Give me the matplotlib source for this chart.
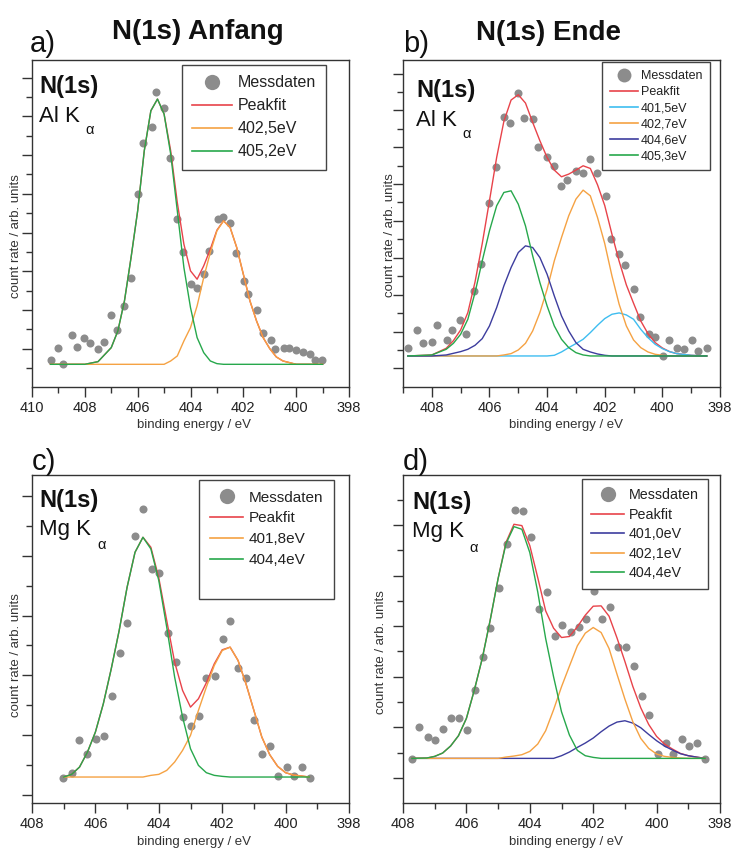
import matplotlib
matplotlib.use('Agg')
import matplotlib.pyplot as plt
from matplotlib.lines import Line2D

plt.rcParams['font.family'] = ['Liberation Sans', 'DejaVu Sans']

# ---------------- data ----------------
# Panel a: N(1s) Anfang, Al K alpha
pts_a_e = [409.29, 409.00, 408.82, 408.50, 408.29, 408.02, 407.81, 407.49, 407.28, 407.00,
           406.80, 406.50, 406.26, 406.00, 405.79, 405.47, 405.31, 405.00, 404.78, 404.52,
           404.30, 404.00, 403.77, 403.50, 403.29, 402.95, 402.76, 402.51, 402.29, 401.98,
           401.81, 401.50, 401.26, 400.97, 400.80, 400.47, 400.27, 399.99, 399.76, 399.46,
           399.29, 399.01]
pts_a_y = [8.0, 11.7, 6.8, 15.7, 12.0, 14.8, 13.3, 11.5, 13.5, 21.5,
           17.2, 24.2, 32.8, 57.8, 73.2, 78.0, 88.5, 83.5, 68.7, 50.2,
           40.5, 31.0, 29.8, 33.8, 40.8, 50.3, 51.0, 49.2, 40.3, 31.8,
           28.0, 23.0, 16.2, 14.0, 11.3, 11.8, 11.8, 11.0, 10.4, 10.0,
           8.0, 8.0]
fit_a_e = [409.3, 408.0, 407.5, 407.0, 406.75, 406.5, 406.25, 406.0, 405.75, 405.5,
           405.25, 405.0, 404.75, 404.5, 404.25, 404.0, 403.75, 403.5, 403.25, 403.0,
           402.75, 402.5, 402.25, 402.0, 401.75, 401.5, 401.25, 401.0, 400.75, 400.5,
           400.0, 399.0]
base_a = 6.8
comp_a_4025 = [0, 0, 0, 0, 0, 0, 0, 0, 0, 0,
               0, 0, 1.0, 2.5, 7, 11, 17.5, 26, 33.5, 40,
               43, 41, 35, 27, 19, 13, 8, 4.7, 2.2, 1,
               0, 0]
comp_a_4052 = [0, 0, 0.8, 5, 10, 19, 32, 46, 64, 76,
               79.5, 75, 63, 46, 29, 17, 8, 3.5, 1, 0.2,
               0, 0, 0, 0, 0, 0, 0, 0, 0, 0,
               0, 0]

# Panel b: N(1s) Ende, Al K alpha
pts_b_e = [408.81, 408.52, 408.31, 407.99, 407.81, 407.48, 407.29, 407.02, 406.81, 406.52,
           406.31, 406.02, 405.79, 405.50, 405.30, 405.01, 404.80, 404.49, 404.32, 403.99,
           403.77, 403.50, 403.30, 403.01, 402.77, 402.50, 402.26, 401.97, 401.79, 401.50,
           401.30, 400.98, 400.78, 400.46, 400.26, 399.97, 399.77, 399.48, 399.25, 398.96,
           398.75, 398.46]
pts_b_y = [11.8, 17.2, 13.3, 13.5, 18.7, 14.0, 17.0, 20.0, 16.0, 28.8,
           37.0, 55.0, 65.8, 81.0, 79.2, 88.0, 80.5, 80.3, 71.8, 69.0,
           66.2, 60.3, 62.0, 64.8, 64.2, 68.2, 64.2, 57.2, 44.5, 40.0,
           36.5, 29.5, 21.0, 16.0, 15.0, 9.3, 14.0, 11.8, 11.5, 14.0,
           10.7, 11.8]
fit_b_e = [408.83, 408.0, 407.5, 407.25, 407.0, 406.75, 406.5, 406.25, 406.0, 405.75,
           405.5, 405.25, 405.0, 404.75, 404.5, 404.25, 404.0, 403.75, 403.5, 403.25,
           403.0, 402.75, 402.5, 402.25, 402.0, 401.75, 401.5, 401.25, 401.0, 400.75,
           400.5, 400.25, 400.0, 399.75, 399.5, 399.0, 398.46]
base_b = 9.3
comp_b_4015 = [0, 0, 0, 0, 0, 0, 0, 0, 0, 0,
               0, 0, 0, 0, 0, 0, 0, 0.2, 1.2, 2.5,
               3.7, 5, 7, 9.2, 11.2, 12.5, 12.9, 12.3, 11, 8,
               5.5, 3.5, 2.2, 1.3, 0.7, 0.2, 0]
comp_b_4027 = [0, 0, 0, 0, 0, 0, 0, 0, 0, 0,
               0.3, 0.7, 1.8, 3.8, 7.5, 13, 20, 28.5, 35.5, 42,
               47, 49.7, 48, 41.5, 33.7, 24, 15.5, 9, 4.8, 2.5,
               1.2, 0.5, 0.2, 0, 0, 0, 0]
comp_b_4046 = [0, 0, 0.3, 0.8, 1.3, 2, 3.2, 5.2, 9, 14.5,
               21, 26.5, 31, 33, 32.5, 29.5, 24.5, 18, 12, 7.5,
               4, 2, 1.2, 0.6, 0.2, 0, 0, 0, 0, 0,
               0, 0, 0, 0, 0, 0, 0]
comp_b_4053 = [0, 0.3, 2, 3.8, 6.5, 11, 19, 28.5, 37.5, 45,
               49, 49.5, 45.5, 39, 30, 22, 15, 9, 5, 2.5,
               1, 0.3, 0, 0, 0, 0, 0, 0, 0, 0,
               0, 0, 0, 0, 0, 0, 0]

# Panel c: Mg K alpha, two components
pts_c_e = [407.01, 406.75, 406.51, 406.26, 405.99, 405.73, 405.49, 405.23, 404.99, 404.75,
           404.49, 404.23, 403.99, 403.72, 403.47, 403.25, 403.00, 402.74, 402.50, 402.23,
           401.99, 401.74, 401.49, 401.24, 400.99, 400.73, 400.48, 400.24, 399.97, 399.74,
           399.48, 399.24]
pts_c_y = [7.5, 9.0, 18.8, 14.7, 19.2, 20.2, 32.0, 45.0, 54.2, 80.3,
           88.2, 70.2, 69.0, 51.0, 42.2, 25.7, 23.0, 26.0, 37.5, 38.0,
           49.3, 54.8, 40.6, 37.5, 25.0, 14.7, 17.2, 8.0, 10.7, 8.2,
           10.7, 7.5]
fit_c_e = [407.0, 406.75, 406.5, 406.25, 406.0, 405.75, 405.5, 405.25, 405.0, 404.75,
           404.5, 404.25, 404.0, 403.75, 403.5, 403.25, 403.0, 402.75, 402.5, 402.25,
           402.0, 401.75, 401.5, 401.25, 401.0, 400.75, 400.5, 400.25, 400.0, 399.75,
           399.5, 399.25]
base_c = 7.8
comp_c_4018 = [0, 0, 0, 0, 0, 0, 0, 0, 0, 0,
               0, 0.5, 0.8, 2, 4.5, 8, 12.5, 20, 27, 33.5,
               38, 39, 35, 28, 20, 12, 6.7, 3.2, 1.3, 0.6,
               0.3, 0]
comp_c_4044 = [0, 0.8, 3, 7.5, 13.5, 22, 32.5, 44, 57, 67.5,
               72, 68.5, 59, 45, 30, 18, 8.5, 3.5, 1.3, 0.5,
               0.2, 0, 0, 0, 0, 0, 0, 0, 0, 0,
               0, 0]

# Panel d: Mg K alpha, three components
pts_d_e = [407.72, 407.49, 407.22, 406.98, 406.74, 406.48, 406.22, 405.98, 405.72, 405.48,
           405.24, 404.96, 404.72, 404.48, 404.22, 403.97, 403.72, 403.46, 403.22, 402.97,
           402.71, 402.46, 402.22, 401.99, 401.71, 401.47, 401.22, 400.97, 400.71, 400.47,
           400.23, 399.96, 399.71, 399.47, 399.21, 398.98, 398.74, 398.47]
pts_d_y = [13.2, 22.7, 19.8, 18.8, 22.3, 25.4, 25.5, 22.0, 34.0, 43.7,
           52.6, 64.7, 77.8, 88.0, 87.7, 79.8, 58.3, 63.3, 50.3, 53.5,
           51.5, 53.0, 55.3, 63.7, 55.3, 58.8, 46.8, 46.7, 41.2, 32.0,
           26.5, 14.7, 18.0, 14.7, 19.3, 17.0, 18.0, 13.2]
fit_d_e = [407.72, 407.25, 407.0, 406.75, 406.5, 406.25, 406.0, 405.75, 405.5, 405.25,
           405.0, 404.75, 404.5, 404.25, 404.0, 403.75, 403.5, 403.25, 403.0, 402.75,
           402.5, 402.25, 402.0, 401.75, 401.5, 401.25, 401.0, 400.75, 400.5, 400.25,
           400.0, 399.75, 399.5, 399.25, 399.0, 398.75, 398.47]
base_d = 13.4
comp_d_4010 = [0, 0, 0, 0, 0, 0, 0, 0, 0, 0,
               0, 0, 0, 0, 0, 0, 0, 0, 0.8, 1.9,
               3.3, 4.6, 6.1, 8, 9.7, 10.9, 11.3, 10.6, 9.2, 7.2,
               5.3, 3.7, 2.5, 1.4, 0.8, 0.4, 0]
comp_d_4021 = [0, 0, 0, 0, 0, 0, 0, 0, 0, 0,
               0, 0.4, 0.7, 1.1, 2.1, 4.3, 8.3, 14.6, 21.5, 27.7,
               33.8, 37.6, 39.3, 37.8, 33, 25.3, 17.8, 11, 6, 3,
               1.3, 0.6, 0.3, 0.1, 0, 0, 0]
comp_d_4044 = [0, 0.1, 0.6, 1.6, 3.7, 6.8, 12, 20.5, 30, 41.5,
               54, 64.5, 69.6, 68.8, 61.8, 50, 36, 24.5, 14, 7,
               2.4, 0.8, 0.3, 0, 0, 0, 0, 0, 0, 0,
               0, 0, 0, 0, 0, 0, 0]

# ---------------- style ----------------
RED = '#e8434a'
ORANGE = '#f5a243'
GREEN = '#27a84c'
CYAN = '#3ebdf0'
NAVY = '#3d3d9e'
GRAY = '#8c8c8c'
SPINE = '#333333'

W, H = 731, 852
fig = plt.figure(figsize=(W / 100, H / 100), dpi=100)


def fx(x):
    return x / W


def fy(y):
    return 1 - y / H


def make_axes(l, t, r, b):
    return fig.add_axes([fx(l), fy(b), fx(r) - fx(l), fy(t) - fy(b)])


def draw_panel(ax, xlim, ylim, xt_major, xt_minor, yt_major, yt_minor,
               pe, py, fe, base, comps, leg_anchor, leg_kw, blank_rows=0):
    ax.plot(pe, py, 'o', color=GRAY, ms=5.8, mec='none', zorder=2)
    total = [base + sum(c[i] for c, _, _ in comps) for i in range(len(fe))]
    ax.plot(fe, total, color=RED, lw=1.0, zorder=3)
    for vals, col, _ in comps:
        ax.plot(fe, [base + v for v in vals], color=col, lw=1.0, zorder=4)
    ax.set_xlim(*xlim)
    ax.set_ylim(*ylim)
    ax.set_xticks(xt_major)
    ax.set_xticks(xt_minor, minor=True)
    ax.set_yticks(yt_major)
    ax.set_yticks(yt_minor, minor=True)
    ax.tick_params(which='both', direction='out', top=False, right=False,
                   width=1.0, color=SPINE, labelleft=False)
    ax.tick_params(which='major', length=7)
    ax.tick_params(which='minor', length=4)
    ax.tick_params(axis='x', which='major', labelsize=10.5, pad=3, labelcolor='#222222')
    for s in ax.spines.values():
        s.set_color(SPINE)
        s.set_linewidth(1.0)
    ms_leg = leg_kw.pop('ms_leg')
    handles = [Line2D([], [], ls='none', marker='o', color=GRAY, mec='none', ms=ms_leg),
               Line2D([], [], color=RED, lw=1.2)]
    labels = ['Messdaten', 'Peakfit']
    for vals, col, lab in sorted(comps, key=lambda c: c[2]):
        handles.append(Line2D([], [], color=col, lw=1.2))
        labels.append(lab)
    for _ in range(blank_rows):
        handles.append(Line2D([], [], ls='none'))
        labels.append(' ')
    leg = ax.legend(handles, labels, loc='upper left', bbox_to_anchor=leg_anchor,
                    borderaxespad=0, fancybox=False, framealpha=1,
                    edgecolor='#444444', **leg_kw)
    leg.get_frame().set_linewidth(1.0)
    for t in leg.get_texts():
        t.set_color('#222222')


def ticks_from(start, step, n):
    return [round(start + step * k, 3) for k in range(n)]


# Panel a
ax_a = make_axes(32, 60, 349, 387)
draw_panel(ax_a, (410, 398), (0, 98),
           [410, 408, 406, 404, 402, 400, 398], [409, 407, 405, 403, 401, 399],
           ticks_from(11.5, 11.6, 8), ticks_from(5.7, 11.6, 8),
           pts_a_e, pts_a_y, fit_a_e, base_a,
           [(comp_a_4025, ORANGE, '402,5eV'), (comp_a_4052, GREEN, '405,2eV')],
           (0.473, 0.985),
           dict(fontsize=11.5, labelspacing=0.5, handlelength=2.5, handletextpad=0.35,
                borderpad=0.65, ms_leg=11))

# Panel b
ax_b = make_axes(403, 60, 720, 387)
draw_panel(ax_b, (409, 398), (0, 98),
           [408, 406, 404, 402, 400, 398], [409, 407, 405, 403, 401, 399],
           ticks_from(5.55, 11.05, 9), ticks_from(11.1, 11.05, 8),
           pts_b_e, pts_b_y, fit_b_e, base_b,
           [(comp_b_4015, CYAN, '401,5eV'), (comp_b_4027, ORANGE, '402,7eV'),
            (comp_b_4046, NAVY, '404,6eV'), (comp_b_4053, GREEN, '405,3eV')],
           (0.628, 0.994),
           dict(fontsize=9, labelspacing=0.32, handlelength=2.2, handletextpad=0.25,
                borderpad=0.65, ms_leg=10))

# Panel c
ax_c = make_axes(32, 475, 349, 803)
draw_panel(ax_c, (408, 398), (0, 98.5),
           [408, 406, 404, 402, 400, 398], [407, 405, 403, 401, 399],
           ticks_from(2.3, 18.0, 6), ticks_from(11.3, 18.0, 5),
           pts_c_e, pts_c_y, fit_c_e, base_c,
           [(comp_c_4018, ORANGE, '401,8eV'), (comp_c_4044, GREEN, '404,4eV')],
           (0.527, 0.985),
           dict(fontsize=11, labelspacing=0.45, handlelength=2.2, handletextpad=0.35,
                borderpad=0.7, ms_leg=11), blank_rows=1)

# Panel d
ax_d = make_axes(403, 475, 720, 803)
draw_panel(ax_d, (408, 398), (0, 98.5),
           [408, 406, 404, 402, 400, 398], [407, 405, 403, 401, 399],
           ticks_from(7.5, 15.2, 6), ticks_from(15.1, 15.2, 6),
           pts_d_e, pts_d_y, fit_d_e, base_d,
           [(comp_d_4010, NAVY, '401,0eV'), (comp_d_4021, ORANGE, '402,1eV'),
            (comp_d_4044, GREEN, '404,4eV')],
           (0.565, 0.988),
           dict(fontsize=10.3, labelspacing=0.38, handlelength=2.3, handletextpad=0.3,
                borderpad=0.65, ms_leg=11))

# ---------------- texts ----------------
fig.text(fx(198), fy(39), 'N(1s) Anfang', fontsize=20, fontweight='bold',
         ha='center', va='baseline', color='#111111')
fig.text(fx(549), fy(40), 'N(1s) Ende', fontsize=20, fontweight='bold',
         ha='center', va='baseline', color='#111111')

for lab, x, y in [('a)', 30, 52), ('b)', 403, 52), ('c)', 32, 470), ('d)', 403, 470)]:
    fig.text(fx(x), fy(y), lab, fontsize=21, ha='left', va='baseline', color='#111111')

for x, y, src, ax_x, ax_y in [(39, 87, 'Al K', 85, 130), (416, 90, 'Al K', 462, 134),
                               (39, 500, 'Mg K', 97, 545), (412, 502, 'Mg K', 469, 548)]:
    fig.text(fx(x), fy(y), 'N(1s)', fontsize=17, fontweight='bold', ha='left',
             va='center', color='#111111')
    fig.text(fx(x), fy(y + 30), src, fontsize=16, ha='left', va='center', color='#111111')
    fig.text(fx(ax_x), fy(ax_y), '\u03b1', fontsize=10.5, ha='left', va='center',
             color='#111111')

for x, y in [(16, 236), (390, 235), (16, 655), (381, 652)]:
    fig.text(fx(x), fy(y), 'count rate / arb. units', fontsize=9.5, rotation=90,
             ha='center', va='center', color='#333333')
for x, y in [(194, 425), (566, 425), (194, 842), (566, 842)]:
    fig.text(fx(x), fy(y), 'binding energy / eV', fontsize=9.5, ha='center',
             va='center', color='#333333')

fig.savefig('out.png', dpi=100)
